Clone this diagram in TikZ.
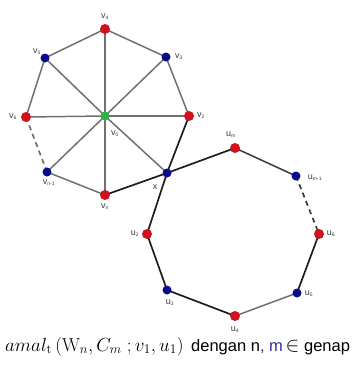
\documentclass[tikz,border=0pt]{standalone}
\usepackage{graphicx}
\usepackage{fontspec}
\setsansfont{Liberation Sans}
\definecolor{nred}{HTML}{D0121B}
\definecolor{nblue}{HTML}{0A0A8C}
\definecolor{ngreen}{HTML}{2DB34A}
\definecolor{egray}{HTML}{707070}
\definecolor{edark}{HTML}{1E1E1E}
\definecolor{lgray}{HTML}{3A3A3A}
\definecolor{capblue}{HTML}{3030A0}
\tikzset{
  rnode/.style={circle,fill=nred,inner sep=0pt,minimum size=10pt},
  bnode/.style={circle,fill=nblue,inner sep=0pt,minimum size=9pt},
  gnode/.style={circle,fill=ngreen,inner sep=0pt,minimum size=9pt},
  lab/.style={font=\sffamily\fontsize{9}{10}\selectfont,text=lgray,inner sep=0pt},
  gedge/.style={draw=egray,line width=1.5pt},
  dedge/.style={draw=edark,line width=1.7pt},
  dashedge/.style={draw=egray,line width=1.7pt,dash pattern=on 5pt off 4pt},
}
\newcommand{\lbv}[2]{#1\textsubscript{\fontsize{5}{5}\selectfont #2}}
\begin{document}
\begin{tikzpicture}[x=1pt,y=-1pt]
\useasboundingbox (0,0) rectangle (359,367);
% wheel coordinates
\coordinate (V0) at (105,116);
\coordinate (V2) at (189,116);
\coordinate (V3) at (166,57);
\coordinate (V4) at (105,29);
\coordinate (V5) at (45,58);
\coordinate (V6) at (26,117);
\coordinate (Vn1) at (47,172);
\coordinate (Vn) at (105,195);
\coordinate (X) at (167,173);
% cycle
\coordinate (Um) at (235,148);
\coordinate (Um1) at (296,176);
\coordinate (U6) at (319,234);
\coordinate (U5) at (297,293);
\coordinate (U4) at (235,316);
\coordinate (U3) at (167,290);
\coordinate (U2) at (147,234);
% spokes
\foreach \p in {V2,V3,V4,V5,V6,Vn1,Vn,X}
  \draw[gedge] (V0) -- (\p);
% rim
\draw[gedge] (V2) -- (V3) -- (V4) -- (V5) -- (V6);
\draw[dashedge] (V6) -- (Vn1);
\draw[gedge] (Vn1) -- (Vn);
\draw[dedge] (Vn) -- (X) -- (V2);
% cycle
\draw[dedge] (X) -- (Um);
\draw[gedge,draw=lgray] (Um) -- (Um1);
\draw[dashedge,draw=lgray] (Um1) -- (U6);
\draw[dedge] (U6) -- (U5);
\draw[gedge] (U5) -- (U4);
\draw[dedge] (U4) -- (U3) -- (U2) -- (X);
% nodes
\node[gnode] (n0) at (V0) {};
\node[rnode] (n2) at (V2) {};
\node[bnode] (n3) at (V3) {};
\node[rnode] (n4) at (V4) {};
\node[bnode] (n5) at (V5) {};
\node[rnode] (n6) at (V6) {};
\node[bnode] (nn1) at (Vn1) {};
\node[rnode] (nn) at (Vn) {};
\node[bnode] (nx) at (X) {};
\node[rnode] (m) at (Um) {};
\node[bnode] (m1) at (Um1) {};
\node[rnode] (m6) at (U6) {};
\node[bnode] (m5) at (U5) {};
\node[rnode] (m4) at (U4) {};
\node[bnode] (m3) at (U3) {};
\node[rnode] (m2) at (U2) {};
% labels
\node[lab] (l4) at (105,17) {\lbv{v}{4}};
\node[lab] (l3) at (179,57) {\lbv{v}{3}};
\node[lab] (l5) at (37,52) {\lbv{v}{5}};
\node[lab] (l6) at (13,117) {\lbv{v}{6}};
\node[lab] (l2) at (201,116) {\lbv{v}{2}};
\node[lab] (l0) at (115,134) {\lbv{v}{0}};
\node[lab] (ln1) at (49,183) {\lbv{v}{n-1}};
\node[lab] (ln) at (105,207) {\lbv{v}{n}};
\node[lab] (lx) at (155,187) {x};
\node[lab] (lm) at (231,135) {\lbv{u}{m}};
\node[lab] (lm1) at (315,178) {\lbv{u}{m-1}};
\node[lab] (l6u) at (331,234) {\lbv{u}{6}};
\node[lab] (l5u) at (309,294) {\lbv{u}{5}};
\node[lab] (l4u) at (235,330) {\lbv{u}{4}};
\node[lab] (l3u) at (170,303) {\lbv{u}{3}};
\node[lab] (l2u) at (135,234) {\lbv{u}{2}};
% caption
\node[anchor=base west,inner sep=0pt,font=\fontsize{17}{20}\selectfont] (cap1) at (5,351)
  {\scalebox{1.1}{$amal_{\mathrm{t}}\,(\mathrm{W}_n, C_m\;; v_1, u_1)$}};
\node[anchor=base west,inner sep=0pt,font=\sffamily\fontsize{16.5}{18}\selectfont] (cap2) at (191,351)
  {dengan n\textcolor{capblue}{, m}\,{\fontsize{21}{21}\selectfont$\in$} genap};
\end{tikzpicture}
\end{document}
